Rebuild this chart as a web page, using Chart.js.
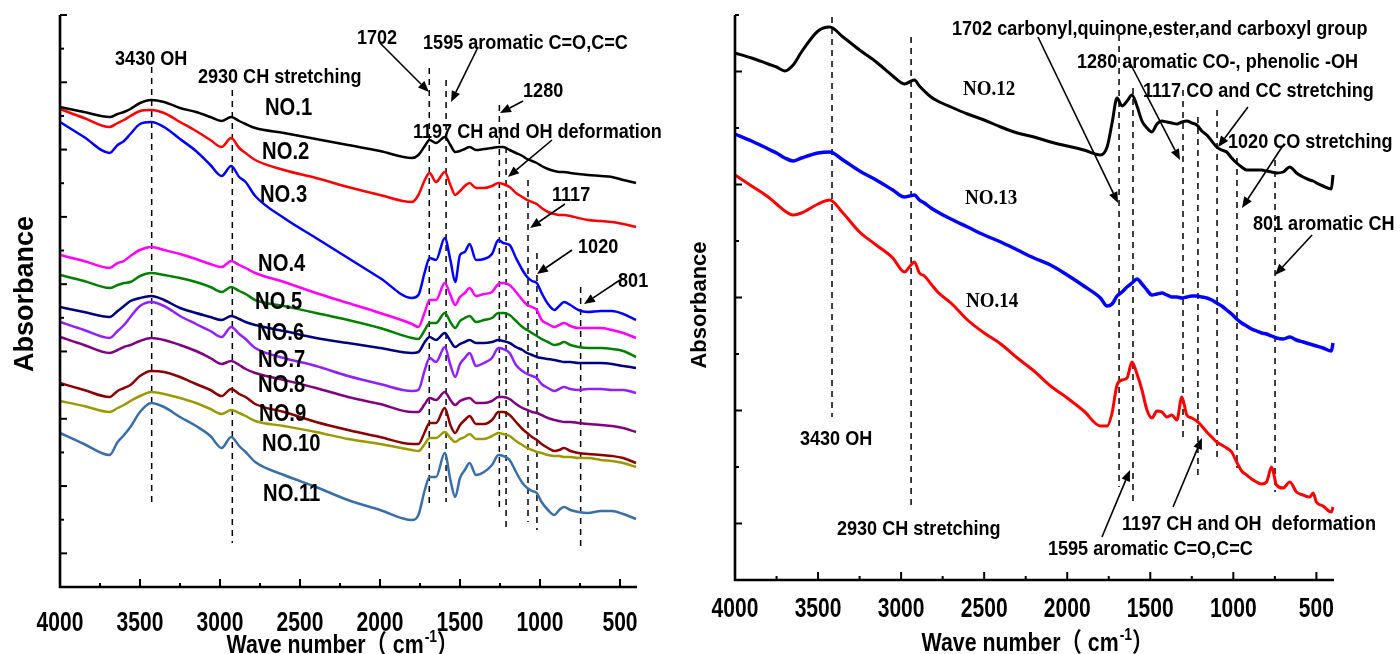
<!DOCTYPE html>
<html><head><meta charset="utf-8">
<script src="https://cdn.jsdelivr.net/npm/chart.js@4"></script>
<style>
html,body{margin:0;padding:0;background:#fff;width:1400px;height:654px;overflow:hidden}
#cL{position:absolute;left:0;top:0}
#cR{position:absolute;left:660px;top:0}
</style></head><body>
<canvas id="cL" width="700" height="654"></canvas>
<canvas id="cR" width="740" height="654"></canvas>
<script>
// ---------- DATA ----------
const leftWavenumbers = [4000,3850,3690,3640,3600,3560,3500,3430,3350,3250,3150,3060,2990,2930,2880,2840,2780,2600,2400,2200,2000,1800,1760,1720,1690,1650,1595,1560,1530,1500,1470,1440,1400,1350,1300,1260,1230,1190,1150,1110,1080,1050,1020,990,950,910,880,850,810,760,700,620,550,480,400];
const no1 = [4.80,4.75,4.70,4.73,4.75,4.78,4.84,4.87,4.85,4.79,4.75,4.70,4.66,4.70,4.66,4.63,4.59,4.54,4.48,4.42,4.36,4.29,4.32,4.41,4.47,4.44,4.50,4.42,4.35,4.36,4.38,4.40,4.37,4.38,4.39,4.40,4.40,4.37,4.34,4.31,4.28,4.26,4.24,4.21,4.18,4.16,4.15,4.15,4.14,4.13,4.12,4.11,4.10,4.07,4.04];
const no2 = [4.78,4.69,4.60,4.64,4.67,4.71,4.76,4.77,4.74,4.65,4.56,4.47,4.40,4.49,4.39,4.34,4.27,4.17,4.09,4.00,3.92,3.85,3.92,4.07,4.14,4.05,4.15,4.02,3.92,3.96,4.01,4.04,3.99,3.99,4.01,4.04,4.03,4.00,3.94,3.90,3.87,3.85,3.83,3.79,3.75,3.73,3.72,3.72,3.71,3.69,3.67,3.66,3.65,3.63,3.60];
const no3 = [4.65,4.50,4.34,4.42,4.46,4.53,4.63,4.65,4.60,4.48,4.36,4.22,4.11,4.21,4.10,4.05,3.91,3.69,3.49,3.29,3.09,2.89,2.92,3.15,3.29,3.27,3.49,3.27,3.05,3.32,3.35,3.43,3.27,3.28,3.33,3.47,3.44,3.42,3.29,3.17,3.10,3.06,3.04,2.94,2.83,2.77,2.81,2.85,2.82,2.77,2.75,2.76,2.76,2.73,2.67];
const no4 = [3.32,3.26,3.19,3.24,3.26,3.31,3.37,3.40,3.37,3.33,3.28,3.23,3.20,3.26,3.22,3.19,3.14,3.05,2.94,2.84,2.74,2.63,2.60,2.75,2.87,2.87,3.04,2.92,2.82,2.90,2.94,2.99,2.91,2.93,2.95,3.03,3.04,3.02,2.95,2.87,2.82,2.80,2.77,2.67,2.63,2.60,2.62,2.64,2.61,2.59,2.59,2.59,2.57,2.54,2.49];
const no5 = [3.12,3.06,2.99,3.02,3.04,3.05,3.11,3.14,3.12,3.09,3.05,3.00,2.95,3.00,2.96,2.93,2.87,2.81,2.74,2.67,2.59,2.49,2.48,2.57,2.64,2.64,2.74,2.65,2.59,2.66,2.69,2.71,2.65,2.67,2.69,2.74,2.74,2.72,2.66,2.60,2.57,2.54,2.51,2.48,2.45,2.42,2.43,2.45,2.42,2.40,2.39,2.39,2.38,2.36,2.30];
const no6 = [2.80,2.75,2.70,2.76,2.81,2.86,2.89,2.91,2.87,2.79,2.74,2.70,2.67,2.71,2.68,2.65,2.62,2.56,2.49,2.44,2.39,2.34,2.35,2.45,2.50,2.47,2.54,2.46,2.40,2.43,2.45,2.47,2.44,2.44,2.45,2.47,2.46,2.44,2.40,2.37,2.34,2.32,2.30,2.29,2.28,2.27,2.26,2.25,2.25,2.24,2.24,2.24,2.23,2.21,2.19];
const no7 = [2.65,2.57,2.49,2.56,2.62,2.70,2.81,2.85,2.81,2.71,2.63,2.56,2.50,2.60,2.53,2.48,2.39,2.29,2.21,2.11,2.03,1.96,1.97,2.17,2.29,2.25,2.40,2.22,2.10,2.23,2.29,2.34,2.21,2.24,2.29,2.39,2.38,2.34,2.22,2.16,2.13,2.11,2.09,2.03,1.99,1.96,1.98,2.00,1.98,1.97,1.98,1.98,1.97,1.97,1.94];
const no8 = [2.50,2.42,2.34,2.37,2.40,2.42,2.46,2.49,2.47,2.42,2.36,2.29,2.23,2.26,2.22,2.18,2.14,2.07,1.99,1.90,1.83,1.75,1.75,1.83,1.89,1.87,1.95,1.87,1.82,1.86,1.88,1.89,1.84,1.84,1.86,1.90,1.90,1.88,1.83,1.79,1.77,1.75,1.74,1.72,1.69,1.67,1.66,1.65,1.65,1.64,1.63,1.62,1.61,1.59,1.55];
const no9 = [2.04,1.97,1.90,1.96,1.99,2.02,2.11,2.16,2.15,2.10,2.03,1.97,1.91,1.98,1.93,1.90,1.83,1.75,1.65,1.57,1.50,1.43,1.43,1.55,1.64,1.64,1.79,1.62,1.54,1.62,1.67,1.71,1.63,1.63,1.67,1.75,1.75,1.72,1.65,1.58,1.54,1.50,1.47,1.43,1.39,1.36,1.37,1.39,1.36,1.34,1.33,1.32,1.31,1.29,1.24];
const no10 = [1.86,1.81,1.75,1.79,1.82,1.86,1.91,1.95,1.93,1.89,1.84,1.78,1.73,1.77,1.74,1.71,1.66,1.61,1.55,1.48,1.43,1.37,1.36,1.43,1.49,1.49,1.55,1.49,1.45,1.48,1.50,1.53,1.48,1.48,1.51,1.54,1.53,1.51,1.46,1.42,1.39,1.37,1.35,1.34,1.32,1.31,1.31,1.30,1.30,1.29,1.29,1.27,1.26,1.24,1.20];
const no11 = [1.54,1.43,1.32,1.45,1.52,1.60,1.75,1.84,1.80,1.70,1.61,1.51,1.39,1.50,1.41,1.35,1.25,1.12,1.00,0.87,0.77,0.67,0.72,0.97,1.10,1.10,1.34,1.07,0.90,1.09,1.17,1.24,1.12,1.15,1.22,1.32,1.31,1.27,1.15,1.04,0.99,0.96,0.94,0.85,0.77,0.72,0.77,0.80,0.77,0.75,0.74,0.76,0.76,0.73,0.68];

const rightWavenumbers = [4000,3900,3800,3750,3700,3650,3600,3500,3430,3350,3250,3150,3050,2980,2950,2920,2890,2860,2820,2780,2700,2600,2500,2400,2300,2200,2100,2000,1900,1800,1760,1730,1700,1670,1640,1610,1580,1550,1520,1490,1460,1430,1400,1370,1340,1310,1280,1250,1220,1190,1160,1130,1100,1070,1040,1010,980,950,920,890,860,830,800,770,740,700,660,620,580,540,520,500,460,410,400];
const no12 = [5.27,5.22,5.16,5.13,5.09,5.15,5.28,5.49,5.53,5.43,5.30,5.18,5.04,4.96,4.98,5.00,4.94,4.89,4.83,4.79,4.73,4.66,4.60,4.53,4.47,4.43,4.38,4.34,4.30,4.25,4.33,4.57,4.82,4.74,4.79,4.85,4.74,4.59,4.52,4.48,4.56,4.59,4.58,4.57,4.56,4.58,4.59,4.57,4.55,4.49,4.45,4.39,4.33,4.30,4.28,4.22,4.17,4.13,4.10,4.10,4.10,4.10,4.09,4.08,4.07,4.08,4.13,4.07,4.03,4.00,3.99,3.97,3.94,3.91,4.05];
const no13 = [4.46,4.39,4.31,4.27,4.22,4.19,4.22,4.27,4.28,4.20,4.09,4.00,3.90,3.83,3.84,3.85,3.80,3.77,3.72,3.68,3.61,3.53,3.45,3.38,3.30,3.22,3.15,3.05,2.94,2.82,2.74,2.76,2.84,2.88,2.93,2.97,3.01,2.96,2.90,2.85,2.86,2.87,2.85,2.83,2.83,2.82,2.83,2.84,2.84,2.83,2.82,2.80,2.77,2.74,2.70,2.66,2.61,2.57,2.54,2.51,2.49,2.47,2.46,2.44,2.42,2.41,2.43,2.40,2.38,2.36,2.35,2.34,2.32,2.29,2.37];
const no14 = [4.05,3.94,3.83,3.76,3.69,3.65,3.67,3.76,3.80,3.67,3.48,3.35,3.22,3.08,3.13,3.18,3.07,3.04,2.96,2.88,2.77,2.60,2.47,2.36,2.22,2.09,1.94,1.82,1.69,1.54,1.54,1.67,1.95,2.00,2.02,2.18,2.06,1.90,1.70,1.62,1.69,1.68,1.63,1.65,1.60,1.83,1.65,1.62,1.59,1.54,1.48,1.43,1.38,1.35,1.32,1.28,1.18,1.09,1.05,1.01,0.98,0.96,0.98,1.13,0.95,0.92,0.98,0.88,0.85,0.83,0.87,0.78,0.74,0.68,0.73];

const xTickLabels = [4000,3500,3000,2500,2000,1500,1000,500];
const xTitle = 'Wave number（ cm';
const yTitle = 'Absorbance';

// band annotations [text, wavenumber, absorbance]
const leftNotes = [['3430 OH',3656,5.225],['2930 CH stretching',3138,5.045],['1702',2144,5.43],['1595 aromatic C=O,C=C',1731,5.38],['1280',1106,4.90],['1197 CH and OH deformation',1794,4.495],['1117',925,3.865],['1020',762,3.34],['801',512,3.00]];
const leftNamePos = [[2719,4.725],[2737,4.285],[2750,3.855],[2762,3.165],[2781,2.785],[2769,2.475],[2762,2.205],[2762,1.955],[2756,1.665],[2737,1.365],[2731,0.865]];
const leftArrows = [[2000,5.44,1694,4.95],[1387,5.40,1556,4.85],[1106,4.86,1250,4.74],[925,4.47,1200,4.10],[844,3.83,1062,3.59],[800,3.37,1019,3.13],[500,3.07,725,2.83]];
const leftMarkers = [[3427,5.20,0.84],[2923,4.97,0.44],[1692,5.19,0.80],[1587,5.07,0.85],[1254,4.82,0.75],[1212,4.40,0.59],[1075,4.07,0.65],[1019,3.34,0.57],[746,3.00,0.38]];

const rightNotes = [['1702 carbonyl,quinone,ester,and carboxyl group',2694,5.455],['1280 aromatic CO-, phenolic -OH',1941,5.125],['1117 CO and CC stretching',1544,4.835],['1020 CO stretching',1032,4.325],['801 aromatic CH',882,3.505],['3430 OH',3609,1.355],['2930 CH stretching',3386,0.455],['1197 CH and OH  deformation',1670,0.505],['1595 aromatic C=O,C=C',2116,0.255]];
const rightNamePos = [[2627,4.855],[2615,3.765],[2609,2.735]];
const rightArrows = [[2176,5.43,1694,3.77],[1622,5.17,1321,4.20],[912,4.73,1092,4.33],[707,4.33,948,3.72],[526,3.45,749,3.05],[1791,0.43,1622,1.10],[1363,0.73,1189,1.42]];
const rightMarkers = [[3416,5.63,1.63],[2940,5.43,0.72],[1688,5.45,0.93],[1604,4.92,0.75],[1303,4.90,1.42],[1213,4.63,1.00],[1098,4.70,1.23],[978,4.22,1.12],[749,4.20,0.88]];

const leftSeries = [
 {name:'NO.1',color:'#000000',values:no1},{name:'NO.2',color:'#ff0000',values:no2},{name:'NO.3',color:'#0000ff',values:no3},
 {name:'NO.4',color:'#ff00ff',values:no4},{name:'NO.5',color:'#008000',values:no5},{name:'NO.6',color:'#000080',values:no6},
 {name:'NO.7',color:'#9020ff',values:no7},{name:'NO.8',color:'#800080',values:no8},{name:'NO.9',color:'#8b0000',values:no9},
 {name:'NO.10',color:'#9a9a00',values:no10},{name:'NO.11',color:'#3a6ea8',values:no11}];
const rightSeries = [{name:'NO.12',color:'#000000',values:no12},{name:'NO.13',color:'#0000ff',values:no13},{name:'NO.14',color:'#ff0000',values:no14}];

// ---------- DRAW HELPERS ----------
const SANS = '"Liberation Sans", Arial, "Noto Sans CJK SC", sans-serif';
const SERIF = '"Liberation Serif", "Times New Roman", serif';
function txt(ctx, s, x, y, size, sx, align, family){
  ctx.save();
  ctx.font = 'bold ' + size + 'px ' + (family || SANS);
  ctx.textBaseline = 'alphabetic'; ctx.textAlign = 'left'; ctx.fillStyle = '#000';
  ctx.translate(x, y); ctx.scale(sx, 1);
  const w = ctx.measureText(s).width;
  ctx.fillText(s, align === 'center' ? -w/2 : 0, 0);
  ctx.restore();
  return w * sx;
}
function measure(ctx, s, size, sx){ ctx.save(); ctx.font = 'bold ' + size + 'px ' + SANS; const w = ctx.measureText(s).width*sx; ctx.restore(); return w; }
function arrow(ctx, x1, y1, x2, y2){
  ctx.save(); ctx.strokeStyle='#000'; ctx.fillStyle='#000'; ctx.lineWidth=1.6; ctx.setLineDash([]);
  const a = Math.atan2(y2-y1, x2-x1), L = 11, H = 4.5;
  const bx = x2 - L*Math.cos(a), by = y2 - L*Math.sin(a);
  ctx.beginPath(); ctx.moveTo(x1,y1); ctx.lineTo(bx,by); ctx.stroke();
  ctx.beginPath(); ctx.moveTo(x2,y2);
  ctx.lineTo(bx + H*Math.sin(a), by - H*Math.cos(a));
  ctx.lineTo(bx - H*Math.sin(a), by + H*Math.cos(a)); ctx.closePath(); ctx.fill();
  ctx.restore();
}

function decor(cfg){
  return {
    id: 'decor',
    beforeDatasetsDraw(chart){
      const ctx = chart.ctx, sx = chart.scales.x, sy = chart.scales.y;
      ctx.save(); ctx.strokeStyle='#000'; ctx.lineWidth=1.5; ctx.setLineDash([6,5]);
      cfg.markers.forEach(m => { const x = sx.getPixelForValue(m[0]);
        ctx.beginPath(); ctx.moveTo(x, sy.getPixelForValue(m[1])); ctx.lineTo(x, sy.getPixelForValue(m[2])); ctx.stroke(); });
      ctx.restore();
    },
    afterDatasetsDraw(chart){
      const ctx = chart.ctx, sx = chart.scales.x, sy = chart.scales.y, ca = chart.chartArea;
      ctx.save(); ctx.strokeStyle='#000'; ctx.lineWidth=2.6; ctx.setLineDash([]);
      ctx.beginPath(); ctx.moveTo(ca.left, ca.top); ctx.lineTo(ca.left, ca.bottom); ctx.lineTo(ca.right+1, ca.bottom); ctx.stroke();
      ctx.lineWidth = 2;
      for (let i = 1; i <= cfg.yTickCount; i++){
        const y = sy.getPixelForValue(i*cfg.yMax/cfg.yTickCount), len = (i % 2 === 1) ? 7 : 4;
        ctx.beginPath(); ctx.moveTo(ca.left, y); ctx.lineTo(ca.left+len, y); ctx.stroke();
      }
      for (let w = 500; w < 4000; w += 250){
        const x = sx.getPixelForValue(w), len = (w % 500 === 0) ? 8 : 4;
        ctx.beginPath(); ctx.moveTo(x, ca.bottom); ctx.lineTo(x, ca.bottom-len); ctx.stroke();
      }
      ctx.restore();
      xTickLabels.forEach(v => txt(ctx, String(v), sx.getPixelForValue(v), ca.bottom + cfg.labelDrop, 27, 0.78, 'center'));
      const wMain = measure(ctx, xTitle, 26, 0.82), wSup = measure(ctx, '-1', 17, 0.82), wEnd = measure(ctx, '）', 26, 0.82);
      let tx = (ca.left+ca.right)/2 - (wMain+wSup+wEnd)/2 + cfg.titleShift;
      const ty = cfg.titleBase;
      tx += txt(ctx, xTitle, tx, ty, 26, 0.82);
      tx += txt(ctx, '-1', tx+1, ty-11, 17, 0.82) + 1;
      txt(ctx, '）', tx, ty, 26, 0.82);
      ctx.save(); ctx.translate(ca.left - cfg.yTitleGap, cfg.yTitleCenter); ctx.rotate(-Math.PI/2);
      txt(ctx, yTitle, 0, 0, cfg.yTitleSize, 1, 'center'); ctx.restore();
      cfg.notes.forEach(n => txt(ctx, n[0], sx.getPixelForValue(n[1]), sy.getPixelForValue(n[2]), 21, 0.86));
      cfg.series.forEach((s, i) => txt(ctx, s.name, sx.getPixelForValue(cfg.namePos[i][0]), sy.getPixelForValue(cfg.namePos[i][1]), cfg.nameSize, cfg.nameScale, 'left', cfg.nameFamily));
      cfg.arrows.forEach(a => arrow(ctx, sx.getPixelForValue(a[0]), sy.getPixelForValue(a[1]), sx.getPixelForValue(a[2]), sy.getPixelForValue(a[3])));
    }
  };
}

function makeChart(id, wn, cfg){
  return new Chart(document.getElementById(id), {
    type: 'line',
    data: { datasets: cfg.series.map(s => ({ label: s.name, data: wn.map((w,i) => ({x:w, y:s.values[i]})),
      borderColor: s.color, borderWidth: s.width || cfg.lineWidth, pointRadius: 0, fill: false,
      cubicInterpolationMode: 'monotone', clip: false })) },
    options: { responsive: false, animation: false, devicePixelRatio: 1, events: [],
      layout: { padding: cfg.padding },
      plugins: { legend: { display: false }, tooltip: { enabled: false } },
      scales: { x: { type: 'linear', min: 400, max: 4000, reverse: true, display: false },
                y: { type: 'linear', min: 0, max: cfg.yMax, display: false } } },
    plugins: [decor(cfg)]
  });
}

makeChart('cL', leftWavenumbers, {
  series: leftSeries, lineWidth: 2.5, yMax: 5.72, yTickCount: 17,
  padding: {left: 60, top: 15, right: 64, bottom: 67},
  labelDrop: 44, titleShift: -6, titleBase: 653, yTitleGap: 27, yTitleCenter: 294, yTitleSize: 27,
  notes: leftNotes, namePos: leftNamePos, nameSize: 23.5, nameScale: 0.86, nameFamily: SANS,
  arrows: leftArrows, markers: leftMarkers
});
rightSeries[0].width = 3; rightSeries[1].width = 3.5; rightSeries[2].width = 3;
makeChart('cR', rightWavenumbers, {
  series: rightSeries, lineWidth: 3, yMax: 5.65, yTickCount: 10,
  padding: {left: 75, top: 15, right: 67, bottom: 74},
  labelDrop: 37, titleShift: 3, titleBase: 651, yTitleGap: 29, yTitleCenter: 305, yTitleSize: 22,
  notes: rightNotes, namePos: rightNamePos, nameSize: 20, nameScale: 0.95, nameFamily: SERIF,
  arrows: rightArrows, markers: rightMarkers
});
</script>
</body></html>
